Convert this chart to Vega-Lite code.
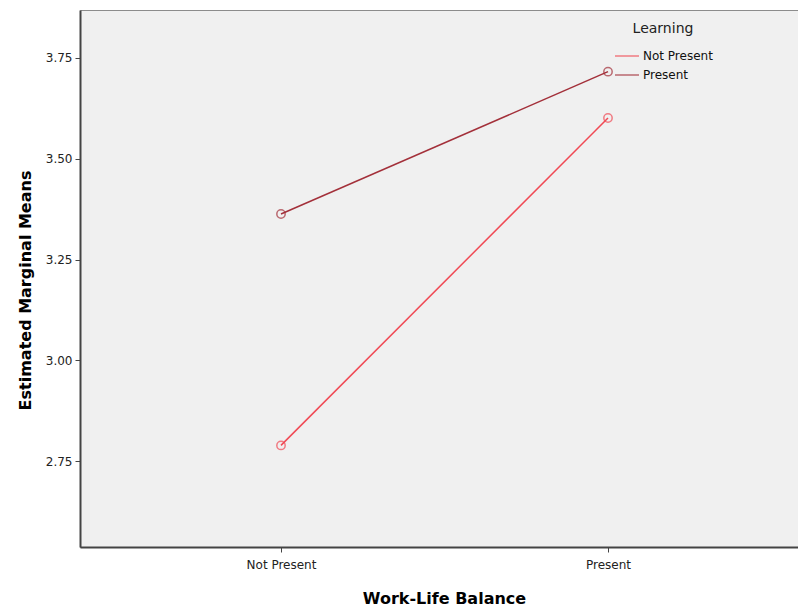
{
  "$schema": "https://vega.github.io/schema/vega-lite/v6.json",
  "autosize": "none",
  "width": 718,
  "height": 537,
  "padding": {"left": 80, "top": 10, "right": 0, "bottom": 61},
  "background": "white",
  "config": {
    "font": "DejaVu Sans",
    "view": {"fill": "#f0f0f0", "stroke": "#8c8c8c", "strokeWidth": 1}
  },
  "data": {
    "values": [
      {"wlb": "Not Present", "learning": "Not Present", "mean": 2.789},
      {"wlb": "Present", "learning": "Not Present", "mean": 3.601},
      {"wlb": "Not Present", "learning": "Present", "mean": 3.363},
      {"wlb": "Present", "learning": "Present", "mean": 3.716}
    ]
  },
  "encoding": {
    "x": {
      "field": "wlb",
      "type": "ordinal",
      "sort": ["Not Present", "Present"],
      "scale": {"type": "point", "range": [0, 729], "padding": 0.6147},
      "axis": {
        "title": "Work-Life Balance",
        "titleFont": "DejaVu Sans",
        "titleFontSize": 16,
        "titleFontWeight": "bold",
        "titleColor": "#000000",
        "titlePadding": 20,
        "titleX": 364,
        "labelAngle": 0,
        "labelFontSize": 12,
        "labelColor": "#222222",
        "labelPadding": 7,
        "domainColor": "#444444",
        "domainWidth": 2,
        "tickColor": "#444444",
        "tickSize": 5,
        "tickWidth": 1
      }
    },
    "y": {
      "field": "mean",
      "type": "quantitative",
      "scale": {"domain": [2.537, 3.869], "nice": false, "zero": false},
      "axis": {
        "title": "Estimated Marginal Means",
        "titleFont": "DejaVu Sans",
        "titleFontSize": 16,
        "titleFontWeight": "bold",
        "titleColor": "#000000",
        "titlePadding": 12,
        "titleY": 280,
        "values": [2.75, 3.0, 3.25, 3.5, 3.75],
        "format": ".2f",
        "grid": false,
        "labelFontSize": 12,
        "labelColor": "#222222",
        "labelPadding": 3,
        "domainColor": "#444444",
        "domainWidth": 2,
        "tickColor": "#444444",
        "tickSize": 5,
        "tickWidth": 1
      }
    },
    "color": {
      "field": "learning",
      "type": "nominal",
      "sort": ["Not Present", "Present"],
      "scale": {"domain": ["Not Present", "Present"], "range": ["#f04a55", "#a3303a"]},
      "legend": {
        "title": "Learning",
        "orient": "none",
        "legendX": 534,
        "legendY": 12,
        "symbolType": "stroke",
        "symbolSize": 576,
        "symbolStrokeWidth": 1.5,
        "titleFontSize": 14,
        "titleFontWeight": "normal",
        "titleColor": "#222222",
        "titleAnchor": "middle",
        "titlePadding": 7,
        "labelFontSize": 12,
        "labelColor": "#111111",
        "labelOffset": 3,
        "rowPadding": -8,
        "fillColor": null
      }
    }
  },
  "layer": [
    {
      "mark": {"type": "line", "strokeWidth": 1.5}
    },
    {
      "mark": {"type": "point", "shape": "circle", "filled": false, "size": 70, "strokeWidth": 1.5}
    }
  ]
}
